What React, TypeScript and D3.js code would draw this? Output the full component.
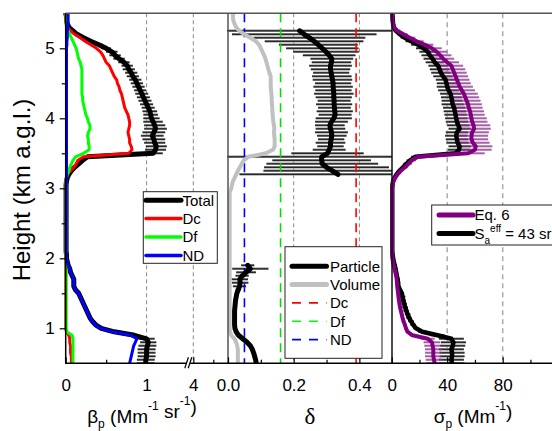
import { useEffect, useRef } from "react";
import * as d3 from "d3";

// lidar altitude grid, km a.g.l. (50 m bins from 0.5 to 5.5 km)
const heights = d3.range(0, 101).map(i => +(0.5 + i * 0.05).toFixed(2));

// backscatter (Mm-1 sr-1)
const betaTotal = [
  0.99, 0.99, 1.0, 1.0, 1.0, 1.01, 1.02, 1.0, 0.85, 0.6,
  0.44, 0.37, 0.33, 0.3, 0.28, 0.26, 0.24, 0.22, 0.2, 0.18,
  0.16, 0.12, 0.1, 0.1, 0.1, 0.08, 0.06, 0.05, 0.03, 0.02,
  0.01, 0.01, 0.005, 0.005, 0.005, 0.005, 0.005, 0.005, 0.005, 0.005,
  0.005, 0.005, 0.005, 0.005, 0.005, 0.005, 0.005, 0.005, 0.005, 0.005,
  0.005, 0.005, 0.01, 0.02, 0.04, 0.07, 0.11, 0.16, 0.21, 0.27,
  1.08, 1.11, 1.12, 1.1, 1.09, 1.07, 1.09, 1.11, 1.1, 1.08,
  1.06, 1.05, 1.04, 1.02, 1.0, 0.98, 0.96, 0.94, 0.92, 0.9,
  0.88, 0.86, 0.83, 0.81, 0.78, 0.76, 0.72, 0.66, 0.61, 0.57,
  0.5, 0.41, 0.31, 0.22, 0.14, 0.09, 0.04, 0.02, 0.01, 0.01,
  0.0,
];
const betaTotalErr = [
  0.11, 0.11, 0.11, 0.11, 0.11, 0.11, 0.1, 0.1, 0.06, 0.04,
  0.03, 0.02, 0.02, 0.02, 0.02, 0.02, 0.02, 0.02, 0.02, 0.02,
  0.02, 0.02, 0.02, 0.02, 0.02, 0.015, 0.015, 0.01, 0.01, 0.01,
  0.005, 0.005, 0.005, 0.005, 0.005, 0.005, 0.005, 0.005, 0.005, 0.005,
  0.005, 0.005, 0.005, 0.005, 0.005, 0.005, 0.005, 0.005, 0.005, 0.005,
  0.005, 0.005, 0.005, 0.01, 0.01, 0.015, 0.015, 0.02, 0.02, 0.03,
  0.12, 0.13, 0.13, 0.13, 0.14, 0.14, 0.14, 0.14, 0.13, 0.12,
  0.1, 0.09, 0.09, 0.08, 0.08, 0.08, 0.08, 0.08, 0.075, 0.075,
  0.075, 0.075, 0.075, 0.075, 0.075, 0.07, 0.07, 0.07, 0.07, 0.07,
  0.06, 0.05, 0.04, 0.03, 0.02, 0.02, 0.01, 0.005, 0.005, 0.005,
  0.005,
];
const betaDc = [
  0.07, 0.07, 0.07, 0.06, 0.06, 0.06, 0.05, 0.05, 0.04, 0.01,
  0, 0, 0, 0, 0, 0, 0, 0, 0, 0,
  0, 0, 0, 0, 0, 0, 0, 0, 0, 0,
  0, 0, 0, 0, 0, 0, 0, 0, 0, 0,
  0, 0, 0, 0, 0, 0, 0, 0, 0, 0,
  0, 0, 0, 0.01, 0.02, 0.06, 0.1, 0.13, 0.15, 0.22,
  0.78, 0.82, 0.81, 0.79, 0.79, 0.78, 0.77, 0.78, 0.79, 0.79,
  0.78, 0.77, 0.75, 0.73, 0.72, 0.71, 0.7, 0.69, 0.67, 0.66,
  0.64, 0.63, 0.6, 0.58, 0.56, 0.54, 0.5, 0.48, 0.46, 0.43,
  0.38, 0.31, 0.24, 0.18, 0.11, 0.06, 0.02, 0.01, 0, 0,
  0,
];
const betaDf = [
  0.09, 0.09, 0.09, 0.09, 0.09, 0.09, 0.09, 0.09, 0.08, 0.01,
  0.005, 0.005, 0.005, 0.005, 0.005, 0.005, 0.005, 0.005, 0.005, 0.005,
  0.005, 0.005, 0.005, 0.005, 0.005, 0.005, 0.005, 0.005, 0.005, 0.005,
  0.005, 0.005, 0.005, 0.005, 0.005, 0.005, 0.005, 0.005, 0.005, 0.005,
  0.005, 0.005, 0.005, 0.005, 0.005, 0.005, 0.005, 0.005, 0.005, 0.005,
  0.005, 0.005, 0.005, 0.01, 0.02, 0.04, 0.05, 0.07, 0.09, 0.12,
  0.22, 0.29, 0.29, 0.28, 0.28, 0.27, 0.28, 0.3, 0.3, 0.28,
  0.27, 0.25, 0.24, 0.23, 0.22, 0.21, 0.21, 0.2, 0.2, 0.2,
  0.2, 0.2, 0.2, 0.2, 0.2, 0.19, 0.18, 0.16, 0.15, 0.14,
  0.13, 0.11, 0.09, 0.07, 0.05, 0.03, 0.01, 0.005, 0.005, 0.005,
  0.005,
];
const betaND = [
  0.79, 0.8, 0.81, 0.82, 0.83, 0.84, 0.86, 0.88, 0.8, 0.58,
  0.43, 0.36, 0.33, 0.3, 0.28, 0.26, 0.24, 0.22, 0.2, 0.18,
  0.16, 0.12, 0.1, 0.1, 0.1, 0.08, 0.06, 0.05, 0.03, 0.02,
  0.01, 0.01, 0.005, 0.005, 0.005, 0.005, 0.005, 0.005, 0.005, 0.005,
  0.005, 0.005, 0.005, 0.005, 0.005, 0.005, 0.005, 0.005, 0.005, 0.005,
  0.005, 0.005, 0.01, 0.01, 0.01, 0.01, 0.01, 0.01, 0.01, 0.01,
  0.01, 0.01, 0.01, 0.01, 0.01, 0.01, 0.01, 0.01, 0.01, 0.01,
  0.01, 0.01, 0.01, 0.01, 0.01, 0.01, 0.01, 0.01, 0.01, 0.01,
  0.01, 0.01, 0.01, 0.01, 0.01, 0.01, 0.01, 0.01, 0.01, 0.01,
  0.01, 0.015, 0.015, 0.02, 0.02, 0.02, 0.025, 0.025, 0.03, 0.03,
  0.03,
];

// depolarization ratio
const deltaParticle = [
  0.086, 0.084, 0.081, 0.078, 0.074, 0.068, 0.058, 0.045, 0.032, 0.025,
  0.021, 0.02, 0.02, 0.02, 0.02, 0.02, 0.021, 0.022, 0.023, 0.025,
  0.027, 0.031, 0.035, 0.037, 0.036, 0.043, 0.055, 0.068, 0.06, null,
  null, null, null, null, null, null, null, null, null, null,
  null, null, null, null, null, null, null, null, null, null,
  null, null, null, null, 0.335, 0.318, 0.3, 0.287, 0.285, 0.285,
  0.303, 0.308, 0.312, 0.312, 0.314, 0.316, 0.315, 0.312, 0.31, 0.315,
  0.322, 0.326, 0.325, 0.324, 0.323, 0.323, 0.322, 0.322, 0.321, 0.32,
  0.32, 0.318, 0.316, 0.314, 0.312, 0.312, 0.315, 0.316, 0.308, 0.298,
  0.287, 0.275, 0.262, 0.248, 0.232, 0.218, null, null, null, null,
  null,
];
const deltaParticleErr = [
  0.004, 0.004, 0.004, 0.004, 0.004, 0.004, 0.004, 0.004, 0.004, 0.004,
  0.004, 0.004, 0.004, 0.004, 0.004, 0.004, 0.004, 0.004, 0.004, 0.004,
  0.005, 0.008, 0.02, 0.025, 0.025, 0.02, 0.03, 0.055, 0.02, null,
  null, null, null, null, null, null, null, null, null, null,
  null, null, null, null, null, null, null, null, null, null,
  null, null, null, null, 0.3, 0.21, 0.19, 0.17, 0.15, 0.3,
  0.11, 0.05, 0.04, 0.045, 0.04, 0.045, 0.05, 0.045, 0.045, 0.05,
  0.055, 0.05, 0.055, 0.05, 0.055, 0.05, 0.055, 0.06, 0.055, 0.06,
  0.055, 0.06, 0.06, 0.055, 0.06, 0.065, 0.06, 0.065, 0.08, 0.1,
  0.11, 0.12, 0.15, 0.17, 0.22, 0.5, null, null, null, null,
  null,
];
const deltaVolume = [
  0.03, 0.03, 0.03, 0.03, 0.03, 0.028, 0.025, 0.02, 0.01, 0.006,
  0.005, 0.005, 0.005, 0.005, 0.005, 0.005, 0.005, 0.005, 0.005, 0.005,
  0.005, 0.005, 0.005, 0.005, 0.005, 0.005, 0.005, 0.005, 0.005, 0.005,
  0.005, 0.005, 0.005, 0.005, 0.005, 0.005, 0.005, 0.005, 0.005, 0.005,
  0.005, 0.005, 0.005, 0.005, 0.005, 0.005, 0.005, 0.005, 0.005, 0.005,
  0.01, 0.012, 0.015, 0.02, 0.025, 0.03, 0.036, 0.042, 0.048, 0.062,
  0.115, 0.137, 0.142, 0.142, 0.142, 0.141, 0.14, 0.141, 0.14, 0.138,
  0.137, 0.136, 0.135, 0.135, 0.134, 0.133, 0.133, 0.132, 0.131, 0.13,
  0.13, 0.13, 0.13, 0.126, 0.123, 0.12, 0.117, 0.114, 0.11, 0.105,
  0.1, 0.095, 0.085, 0.068, 0.05, 0.035, 0.025, 0.02, 0.016, 0.015,
  0.015,
];
const refDepol = [
  { name: "Dc", value: 0.39, color: "#ff0000" },
  { name: "Df", value: 0.16, color: "#00e000" },
  { name: "ND", value: 0.05, color: "#0000ff" },
];

// extinction (Mm-1)
const sigmaEq6 = [
  31, 30.5, 30, 30, 30, 29.5, 29, 26, 15, 11.5,
  10.3, 9.5, 8.5, 7.8, 7.2, 6.6, 6, 5.6, 5.2, 4.9,
  4.6, 4.3, 4, 3.8, 3.6, 3.2, 2.6, 2, 1.4, 0.9,
  0.5, 0.4, 0.3, 0.3, 0.3, 0.3, 0.3, 0.3, 0.3, 0.3,
  0.3, 0.3, 0.3, 0.3, 0.3, 0.3, 0.3, 0.3, 0.3, 0.3,
  0.3, 0.6, 1.2, 2.5, 4.2, 6.5, 9.5, 12, 14.5, 19,
  55, 60, 60.5, 58.5, 57.5, 57.5, 58, 59.4, 59, 58,
  57.5, 57, 56.5, 55.5, 55, 54, 53, 52, 50.5, 49,
  48, 47, 46, 45, 44, 43, 40, 37, 35, 32.5,
  29, 24, 18, 13, 8.5, 4, 1.8, 1, 0.6, 0.5,
  0.5,
];
const sigmaEq6Err = [
  6, 6, 6, 6, 6, 6, 6, 5, 2, 1.5,
  1.2, 1.2, 1.2, 1.2, 1.2, 1.2, 1.2, 1.2, 1.2, 1.2,
  1, 1, 1, 1, 1, 1, 1, 1, 1, 1,
  0.3, 0.3, 0.3, 0.3, 0.3, 0.3, 0.3, 0.3, 0.3, 0.3,
  0.3, 0.3, 0.3, 0.3, 0.3, 0.3, 0.3, 0.3, 0.3, 0.3,
  0.3, 0.3, 0.5, 0.8, 1, 1.5, 2, 2.5, 3, 4,
  12, 12, 12, 12, 12, 12, 12, 12, 12, 11,
  11, 10, 10, 10, 10, 10, 10, 10, 9.5, 9.5,
  9, 9, 9, 9, 9, 8.5, 8.5, 8, 8, 7.5,
  7, 6, 5, 4, 3, 2, 1, 0.5, 0.3, 0.3,
  0.3,
];
const sigma43 = [
  43.5, 43, 43.5, 43.5, 43, 44, 44.5, 43, 33, 22,
  17.5, 15.5, 14, 12.5, 11.5, 10.5, 9.7, 9, 8.3, 7.8,
  7.3, 6, 4.8, 4.6, 4.3, 3.7, 3.2, 2.7, 2.2, 1.5,
  1, 0.7, 0.4, 0.4, 0.4, 0.4, 0.4, 0.4, 0.4, 0.4,
  0.4, 0.4, 0.4, 0.4, 0.4, 0.4, 0.4, 0.4, 0.4, 0.4,
  0.4, 0.6, 1, 2, 3.5, 5.5, 8.2, 10.5, 13.3, 17,
  46, 48.5, 49, 47.5, 47, 46.5, 47, 49, 48, 47,
  46.5, 46, 45.5, 45, 44, 43.5, 43, 42.4, 41, 40,
  39.5, 38.8, 37, 35.5, 34.5, 33.5, 31, 29.5, 27.5, 26,
  23, 19, 14, 9.5, 6, 3, 1.5, 1, 0.8, 0.6,
  0.5,
];
const sigma43Err = [
  9, 9, 9, 9, 9, 9, 9, 9, 5, 3,
  2, 2, 2, 2, 2, 2, 2, 2, 2, 2,
  1.5, 1.5, 1.5, 1.5, 1.5, 1.5, 1.5, 1.5, 1.5, 1.5,
  0.5, 0.5, 0.5, 0.5, 0.5, 0.5, 0.5, 0.5, 0.5, 0.5,
  0.5, 0.5, 0.5, 0.5, 0.5, 0.5, 0.5, 0.5, 0.5, 0.5,
  0.5, 0.5, 0.5, 0.8, 1, 1.2, 1.5, 2, 2.5, 3,
  8, 8, 8, 8, 8, 8, 8, 8, 8, 8,
  8, 8, 8, 8, 8, 7.5, 7.5, 7.5, 7.5, 7.5,
  7, 7, 7, 7, 7, 7, 6.5, 6.5, 6, 6,
  5.5, 5, 4, 3, 2, 1.5, 1, 0.5, 0.5, 0.5,
  0.5,
];

const heightTicks = [1, 2, 3, 4, 5];
const heightMinor = [1.5, 2.5, 3.5, 4.5];

const FONT = "'Liberation Sans', Arial, sans-serif";

export default function App() {
  const svgRef = useRef(null);

  useEffect(() => {
    const width = 552;
    const height = 431;
    const top = 13.3;
    const bottom = 363.3;
    const left = 65.7;
    const mid1 = 228;
    const mid2 = 392;

    const svg = d3.select(svgRef.current);
    svg.selectAll("*").remove();
    svg
      .attr("width", width)
      .attr("height", height)
      .style("font-family", FONT)
      .style("background", "#fff");

    const y = d3.scaleLinear().domain([0.5, 5.5]).range([bottom, top]);
    const xBeta = d3.scaleLinear().domain([0, 1]).range([left, 146.6]);
    const xBetaHi = d3.scaleLinear().domain([4, 4.5]).range([193.3, 213.3]);
    const xDelta = d3.scaleLinear().domain([0, 0.2]).range([mid1, 293.7]);
    const xSigma = d3.scaleLinear().domain([0, 40]).range([391.7, 447.2]);

    const defs = svg.append("defs");
    const clip = (id, x0, x1) =>
      defs
        .append("clipPath")
        .attr("id", id)
        .append("rect")
        .attr("x", x0)
        .attr("y", top)
        .attr("width", x1 - x0)
        .attr("height", bottom - top);
    clip("clipL", 58, mid1);
    clip("clipM", mid1 - 1, mid2);
    clip("clipR", mid2 - 3, width + 10);

    const pts = (vals, errs?) =>
      heights
        .map((h, i) => ({ h, v: vals[i], e: errs ? errs[i] : 0 }))
        .filter(d => d.v != null);

    const drawLine = (g, xs, vals, color, w) => {
      const line = d3
        .line()
        .defined((_, i) => vals[i] != null)
        .x((_, i) => xs(vals[i]))
        .y((_, i) => y(heights[i]));
      g.append("path")
        .attr("d", line(heights))
        .attr("fill", "none")
        .attr("stroke", color)
        .attr("stroke-width", w)
        .attr("stroke-linejoin", "round")
        .attr("stroke-linecap", "round");
    };

    const drawErr = (g, xs, vals, errs, light, dark, opacity = 1) => {
      const data = pts(vals, errs).filter(d => d.e != null);
      g.append("g")
        .selectAll("line")
        .data(data)
        .enter()
        .append("line")
        .attr("x1", d => xs(d.v - d.e))
        .attr("x2", d => xs(d.v + d.e))
        .attr("y1", d => y(d.h))
        .attr("y2", d => y(d.h))
        .attr("stroke", light)
        .attr("stroke-opacity", opacity)
        .attr("stroke-width", 2.6);
      g.append("g")
        .selectAll("line")
        .data(data)
        .enter()
        .append("line")
        .attr("x1", d => xs(d.v - d.e))
        .attr("x2", d => xs(d.v + d.e))
        .attr("y1", d => y(d.h))
        .attr("y2", d => y(d.h))
        .attr("stroke", dark)
        .attr("stroke-opacity", opacity)
        .attr("stroke-width", 0.9);
    };

    const vGrid = (xPos, color, dash, w = 1) =>
      svg
        .append("line")
        .attr("x1", xPos)
        .attr("x2", xPos)
        .attr("y1", top)
        .attr("y2", bottom)
        .attr("stroke", color)
        .attr("stroke-width", w)
        .attr("stroke-dasharray", dash);

    // grid lines
    vGrid(xBeta(1), "#888", "4,3");
    vGrid(xBetaHi(4), "#888", "4,3");
    vGrid(xDelta(0.2), "#888", "4,3");
    vGrid(xDelta(0.4), "#888", "4,3");
    vGrid(xSigma(40), "#aaa", "5,4", 1.5);
    vGrid(xSigma(80), "#aaa", "5,4", 1.5);

    // ---- left panel: backscatter
    const gL = svg.append("g").attr("clip-path", "url(#clipL)");
    drawErr(gL, xBeta, betaTotal, betaTotalErr, "#8c8c8c", "#000");
    drawLine(gL, xBeta, betaTotal, "#000", 5);
    drawLine(gL, xBeta, betaDc, "#ff0000", 3);
    drawLine(gL, xBeta, betaDf, "#00ff00", 3);
    drawLine(gL, xBeta, betaND, "#0000ff", 3);

    // ---- middle panel: depolarization
    const gM = svg.append("g").attr("clip-path", "url(#clipM)");
    drawErr(gM, xDelta, deltaParticle, deltaParticleErr, "#8c8c8c", "#000");
    refDepol.forEach(r =>
      gM.append("line")
        .attr("x1", xDelta(r.value))
        .attr("x2", xDelta(r.value))
        .attr("y1", top)
        .attr("y2", bottom)
        .attr("stroke", r.color)
        .attr("stroke-width", 1.6)
        .attr("stroke-dasharray", "9,6")
    );
    drawLine(gM, xDelta, deltaVolume, "#c0c0c0", 4);
    drawLine(gM, xDelta, deltaParticle, "#000", 5);

    // ---- right panel: extinction
    const gR = svg.append("g").attr("clip-path", "url(#clipR)");
    drawErr(gR, xSigma, sigma43, sigma43Err, "#8c8c8c", "#000");
    drawErr(gR, xSigma, sigmaEq6, sigmaEq6Err, "#b35cb3", "#5a145a", 0.6);
    drawLine(gR, xSigma, sigma43, "#000", 4.5);
    drawLine(gR, xSigma, sigmaEq6, "#800080", 4);

    // ---- frame
    const frame = svg.append("g").attr("stroke-width", 1.5);
    frame.append("line").attr("x1", left).attr("x2", width).attr("y1", top).attr("y2", top).attr("stroke", "#555");
    frame.append("line").attr("x1", mid1).attr("x2", mid1).attr("y1", top).attr("y2", bottom).attr("stroke", "#555");
    frame.append("line").attr("x1", mid2).attr("x2", mid2).attr("y1", top).attr("y2", bottom).attr("stroke", "#111");
    frame.append("line").attr("x1", left).attr("x2", left).attr("y1", top).attr("y2", bottom).attr("stroke", "#000");
    frame.append("line").attr("x1", left - 0.7).attr("x2", 186).attr("y1", bottom).attr("y2", bottom).attr("stroke", "#000");
    frame.append("line").attr("x1", 190).attr("x2", width).attr("y1", bottom).attr("y2", bottom).attr("stroke", "#000");
    // axis break
    [[184.8, 188.4], [188.2, 191.8]].forEach(([a, b]) =>
      frame.append("line")
        .attr("x1", a).attr("y1", bottom + 5)
        .attr("x2", b).attr("y2", bottom - 6)
        .attr("stroke", "#000").attr("stroke-width", 1.2)
    );

    const styleAxis = g => {
      g.select(".domain").remove();
      g.attr("font-family", FONT).attr("font-size", 17);
      g.selectAll("line").attr("stroke", "#000").attr("stroke-width", 1.2);
      g.selectAll("text").attr("fill", "#000");
    };

    const bottomAxis = (scale, major, minor, fmt) => {
      svg.append("g")
        .attr("transform", `translate(0,${bottom})`)
        .call(d3.axisBottom(scale).tickValues(major).tickSize(-6).tickPadding(16).tickFormat(fmt))
        .call(styleAxis);
      if (minor.length)
        svg.append("g")
          .attr("transform", `translate(0,${bottom})`)
          .call(d3.axisBottom(scale).tickValues(minor).tickSize(-3.5).tickFormat(() => ""))
          .call(styleAxis);
    };
    bottomAxis(xBeta, [0, 1], [0.5], d3.format("d"));
    bottomAxis(xBetaHi, [4], [4.5], d3.format("d"));
    bottomAxis(xDelta, [0, 0.2, 0.4], [0.1, 0.3], d3.format(".1f"));
    bottomAxis(xSigma, [0, 40, 80], [20, 60, 100], d3.format("d"));

    svg.append("g")
      .attr("transform", `translate(${left},0)`)
      .call(d3.axisLeft(y).tickValues(heightTicks).tickSize(6).tickPadding(5).tickFormat(d3.format("d")))
      .call(styleAxis);
    svg.append("g")
      .attr("transform", `translate(${left},0)`)
      .call(d3.axisLeft(y).tickValues(heightMinor).tickSize(4).tickFormat(() => ""))
      .call(styleAxis);

    // ---- axis titles
    svg.append("text")
      .attr("transform", "translate(30,190) rotate(-90)")
      .attr("text-anchor", "middle")
      .attr("font-size", 24)
      .text("Height (km a.g.l.)");

    const subTitle = (x, parts) => {
      const t = svg.append("text")
        .attr("x", x)
        .attr("y", 423)
        .attr("text-anchor", "middle")
        .attr("font-size", 19)
        .style("white-space", "pre");
      parts.forEach(([txt, kind]) => {
        const s = t.append("tspan").text(txt);
        if (kind === "sub") s.attr("font-size", 12).attr("dy", 5);
        if (kind === "sup") s.attr("font-size", 12).attr("dy", -13);
        if (kind === "back") s.attr("dy", 8);
        if (kind === "backsub") s.attr("dy", -5);
      });
    };
    subTitle(142, [["β"], ["p", "sub"], [" (Mm", "backsub"], ["-1", "sup"], [" sr", "back"], ["-1", "sup"], [")", "back"]]);
    subTitle(473, [["σ"], ["p", "sub"], [" (Mm", "backsub"], ["-1", "sup"], [")", "back"]]);
    svg.append("text")
      .attr("x", 310)
      .attr("y", 424)
      .attr("text-anchor", "middle")
      .attr("font-family", "'Liberation Serif', 'Times New Roman', serif")
      .attr("font-size", 23)
      .text("δ");

    // ---- legends
    const legend = (x, y0, w, h, items, lx0, lx1, tx, rowH) => {
      const g = svg.append("g");
      g.append("rect")
        .attr("x", x).attr("y", y0).attr("width", w).attr("height", h)
        .attr("fill", "#fff").attr("stroke", "#222").attr("stroke-width", 1);
      items.forEach((it, i) => {
        const yy = y0 + rowH[0] + i * rowH[1];
        g.append("line")
          .attr("x1", lx0).attr("x2", lx1).attr("y1", yy).attr("y2", yy)
          .attr("stroke", it.color).attr("stroke-width", it.w)
          .attr("stroke-linecap", it.dash ? "butt" : "round")
          .attr("stroke-dasharray", it.dash || null);
        const t = g.append("text")
          .attr("x", tx).attr("y", yy).attr("dy", "0.36em")
          .attr("font-size", 15)
          .style("white-space", "pre");
        if (it.label === "Seff") {
          t.append("tspan").text("S");
          t.append("tspan").attr("font-size", 10).attr("dy", 5).text("a");
          t.append("tspan").attr("font-size", 10).attr("dy", -12).text("eff");
          t.append("tspan").attr("dy", 7).text(" = 43 sr");
        } else t.text(it.label);
      });
    };
    legend(143.3, 191.7, 74, 71.6, [
      { label: "Total", color: "#000", w: 5 },
      { label: "Dc", color: "#ff0000", w: 3.5 },
      { label: "Df", color: "#00ff00", w: 3.5 },
      { label: "ND", color: "#0000ff", w: 3.5 },
    ], 146, 181, 182.5, [8.5, 18.4]);
    legend(285, 246.7, 97, 111.6, [
      { label: "Particle", color: "#000", w: 5 },
      { label: "Volume", color: "#c0c0c0", w: 5 },
      { label: "Dc", color: "#ff0000", w: 1.6, dash: "9,8" },
      { label: "Df", color: "#00ff00", w: 1.6, dash: "9,8" },
      { label: "ND", color: "#0000ff", w: 1.6, dash: "9,8" },
    ], 292, 326.5, 330, [19.5, 18.35]);
    legend(431.7, 205, 130, 40, [
      { label: "Eq. 6", color: "#800080", w: 5 },
      { label: "Seff", color: "#000", w: 5 },
    ], 439, 473, 474.5, [10, 18.5]);
  }, []);

  return <svg ref={svgRef} style={{ position: "absolute", left: 0, top: 0, display: "block" }} />;
}
